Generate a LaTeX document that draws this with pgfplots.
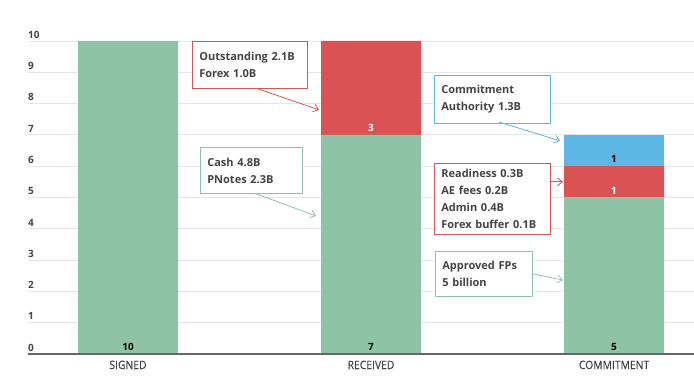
\documentclass[border=0pt]{standalone}
\usepackage{fontspec}
\setmainfont{Open Sans}
\newfontfamily\catfont{Open Sans}[FakeStretch=0.9,FakeBold=0.5]
\usepackage{pgfplots}
\pgfplotsset{compat=1.18}
\usetikzlibrary{arrows.meta}
\definecolor{cg}{HTML}{8FC3A7}
\definecolor{cr}{HTML}{DB5254}
\definecolor{cb}{HTML}{5EB6E4}
\definecolor{tx}{HTML}{444444}
\definecolor{gl}{HTML}{E6E6E6}
\newcommand{\boxfont}{\fontsize{11}{17}\selectfont\bfseries}
\newcommand{\valfont}{\fontsize{10}{11}\selectfont\bfseries}
\begin{document}
\begin{tikzpicture}
\begin{axis}[
 scale only axis, width=666pt, height=313pt,
 xmin=-0.4115, xmax=2.329, ymin=0, ymax=10,
 ybar stacked, bar width=100pt,
 axis line style={draw=none},
 major tick length=0pt,
 xtick={0,1,2}, xticklabels={SIGNED,RECEIVED,COMMITMENT},
 xticklabel style={font=\catfont\fontsize{11.5}{12}\selectfont, text=tx, inner sep=0pt, yshift=-6.5pt},
 ytick={0,1,...,10},
 ymajorgrids, grid style={gl, line width=0.8pt},
 yticklabel style={font=\fontsize{10}{11}\selectfont\bfseries, text=tx, anchor=south west, inner sep=0pt, yshift=2.5pt},
 /pgf/number format/assume math mode=true,
 clip=false,
]
\addplot[fill=cg, draw=none] coordinates {(0,10) (1,7) (2,5)};
\addplot[fill=cr, draw=none] coordinates {(0,0) (1,3) (2,1)};
\addplot[fill=cb, draw=none] coordinates {(0,0) (1,0) (2,1)};
\coordinate (o) at (rel axis cs:0,0);
\coordinate (oe) at (rel axis cs:1,0);
\coordinate (v1) at (axis cs:0,0);
\coordinate (v2) at (axis cs:1,0);
\coordinate (v3) at (axis cs:2,0);
\coordinate (v4) at (axis cs:1,7);
\coordinate (v5) at (axis cs:2,5);
\coordinate (v6) at (axis cs:2,6);
\coordinate (b1) at (axis cs:0.263,10);
\coordinate (a1s) at (axis cs:0.535,8.47);
\coordinate (a1e) at (axis cs:0.786,7.80);
\coordinate (b2) at (axis cs:0.296,6.61);
\coordinate (a2s) at (axis cs:0.519,5.14);
\coordinate (a2e) at (axis cs:0.774,4.41);
\coordinate (b3) at (axis cs:1.259,8.91);
\coordinate (a3s) at (axis cs:1.527,7.41);
\coordinate (a3e) at (axis cs:1.778,6.81);
\coordinate (b4) at (axis cs:1.259,6.10);
\coordinate (a4s) at (axis cs:1.741,5.50);
\coordinate (a4e) at (axis cs:1.790,5.50);
\coordinate (b5) at (axis cs:1.263,3.29);
\coordinate (a5s) at (axis cs:1.667,2.56);
\coordinate (a5e) at (axis cs:1.790,2.36);
\end{axis}
\draw[color=black!60, line width=1.4pt] (o) -- (oe);
% value labels
\node[font=\valfont, anchor=south, inner sep=0pt, yshift=3pt] at (v1) {10};
\node[font=\valfont, anchor=south, inner sep=0pt, yshift=3pt] at (v2) {7};
\node[font=\valfont, anchor=south, inner sep=0pt, yshift=3pt] at (v3) {5};
\node[font=\valfont, text=white, anchor=south, inner sep=0pt, yshift=3pt] at (v4) {3};
\node[font=\valfont, text=white, anchor=south, inner sep=0pt, yshift=3pt] at (v5) {1};
\node[font=\valfont, anchor=south, inner sep=0pt, yshift=3pt] at (v6) {1};
% annotation boxes
\node[draw=cr, line width=0.8pt, fill=white, anchor=north west, text width=101pt, minimum height=47pt, inner xsep=7pt, align=left, font=\boxfont, text=tx] at (b1) {Outstanding 2.1B\\Forex 1.0B};
\draw[cr, line width=0.8pt, -{Straight Barb[length=5pt,width=8pt]}] (a1s) -- (a1e);
\node[draw=cg, line width=0.8pt, fill=white, anchor=north west, text width=88pt, minimum height=46pt, inner xsep=7pt, align=left, font=\boxfont, text=tx] at (b2) {Cash 4.8B\\PNotes 2.3B};
\draw[cg, line width=0.8pt, -{Straight Barb[length=5pt,width=8pt]}] (a2s) -- (a2e);
\node[draw=cb, line width=0.8pt, fill=white, anchor=north west, text width=102pt, minimum height=48pt, inner xsep=7pt, align=left, font=\boxfont, text=tx] at (b3) {Commitment\\Authority 1.3B};
\draw[cb, line width=0.8pt, -{Straight Barb[length=5pt,width=8pt]}] (a3s) -- (a3e);
\node[draw=cr, line width=0.8pt, fill=white, anchor=north west, text width=102pt, minimum height=71pt, inner xsep=7pt, align=left, font=\boxfont, text=tx] at (b4) {Readiness 0.3B\\AE fees 0.2B\\Admin 0.4B\\Forex buffer 0.1B};
\draw[cr, line width=0.8pt, -{Straight Barb[length=5pt,width=8pt]}] (a4s) -- (a4e);
\node[draw=cg, line width=0.8pt, fill=white, anchor=north west, text width=83pt, minimum height=45pt, inner xsep=7pt, align=left, font=\boxfont, text=tx] at (b5) {Approved FPs\\5 billion};
\draw[cg, line width=0.8pt, -{Straight Barb[length=5pt,width=8pt]}] (a5s) -- (a5e);
\pgfresetboundingbox
\path ([shift={(-28pt,-26pt)}]o) rectangle ([shift={(666pt,354pt)}]o);
\end{tikzpicture}
\end{document}
